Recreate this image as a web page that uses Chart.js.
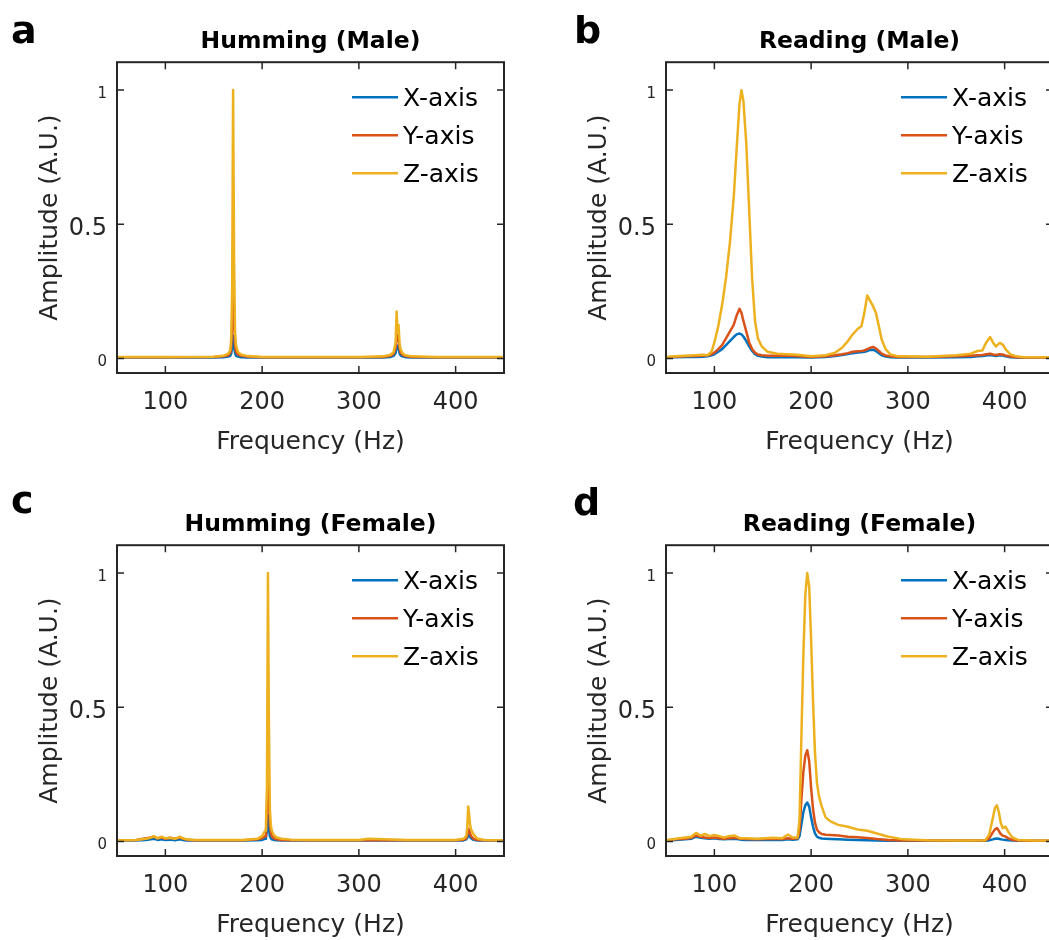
<!DOCTYPE html>
<html>
<head>
<meta charset="utf-8">
<title>Vibration spectra</title>
<script src="https://cdn.jsdelivr.net/npm/chart.js@4.4.1/dist/chart.umd.min.js"></script>
<style>
  body { margin: 0; background: #fff; }
  #page { position: relative; width: 1049px; height: 940px; overflow: hidden; background: #fff; }
  #page canvas { position: absolute; }
</style>
</head>
<body>
<div id="page">
  <canvas id="chartA" width="520" height="470" style="left:0px;top:0px"></canvas>
  <canvas id="chartB" width="520" height="470" style="left:549px;top:0px"></canvas>
  <canvas id="chartC" width="520" height="470" style="left:0px;top:483px"></canvas>
  <canvas id="chartD" width="520" height="470" style="left:549px;top:483px"></canvas>
</div>
<script>
const xTicks = [100, 200, 300, 400];
const yTicks = [0, 0.5, 1];
const seriesNames = ['X-axis', 'Y-axis', 'Z-axis'];
const seriesColors = ['#0072BD', '#D95319', '#EDB120'];

// a - Humming (Male)
const freqA = [50, 100, 150, 160, 165, 167, 168, 169, 170, 171, 172, 173, 175, 178, 185, 200, 250, 300, 325, 333, 336, 338, 339, 340, 341, 342, 343, 345, 348, 355, 380, 450];
const xA = [0.004, 0.004, 0.004, 0.005, 0.007, 0.01, 0.018, 0.04, 0.085, 0.045, 0.02, 0.01, 0.007, 0.005, 0.004, 0.004, 0.004, 0.004, 0.004, 0.006, 0.01, 0.02, 0.05, 0.035, 0.04, 0.02, 0.012, 0.008, 0.005, 0.004, 0.004, 0.004];
const yA = [0.005, 0.005, 0.006, 0.008, 0.012, 0.02, 0.04, 0.12, 0.33, 0.16, 0.05, 0.025, 0.015, 0.01, 0.007, 0.005, 0.005, 0.005, 0.006, 0.01, 0.018, 0.04, 0.09, 0.065, 0.075, 0.04, 0.022, 0.014, 0.009, 0.006, 0.005, 0.005];
const zA = [0.006, 0.006, 0.007, 0.01, 0.018, 0.03, 0.07, 0.25, 1.0, 0.38, 0.1, 0.05, 0.025, 0.015, 0.009, 0.006, 0.006, 0.006, 0.008, 0.014, 0.025, 0.06, 0.175, 0.1, 0.125, 0.06, 0.035, 0.02, 0.012, 0.008, 0.006, 0.006];

// b - Reading (Male)
const freqB = [50, 60, 70, 80, 88, 93, 97, 100, 104, 108, 112, 116, 120, 123, 126, 128, 130, 133, 136, 139, 142, 145, 149, 155, 165, 175, 185, 200, 215, 225, 232, 238, 243, 248, 252, 255, 258, 261, 264, 267, 270, 273, 277, 282, 290, 320, 350, 365, 372, 377, 381, 385, 388, 391, 395, 398, 402, 406, 412, 420, 450];
const xB = [0.004, 0.005, 0.006, 0.006, 0.007, 0.008, 0.012, 0.016, 0.025, 0.035, 0.05, 0.065, 0.08, 0.09, 0.093, 0.09, 0.082, 0.065, 0.045, 0.028, 0.016, 0.01, 0.007, 0.005, 0.005, 0.005, 0.005, 0.004, 0.006, 0.009, 0.013, 0.017, 0.02, 0.022, 0.023, 0.025, 0.028, 0.032, 0.033, 0.028, 0.02, 0.012, 0.007, 0.005, 0.004, 0.004, 0.005, 0.006, 0.008, 0.009, 0.011, 0.013, 0.011, 0.009, 0.012, 0.011, 0.007, 0.005, 0.004, 0.003, 0.003];
const yB = [0.005, 0.007, 0.008, 0.009, 0.01, 0.012, 0.016, 0.022, 0.035, 0.05, 0.075, 0.1, 0.125, 0.16, 0.185, 0.17, 0.14, 0.1, 0.06, 0.035, 0.022, 0.015, 0.012, 0.01, 0.01, 0.01, 0.009, 0.006, 0.008, 0.012, 0.016, 0.02, 0.025, 0.027, 0.028, 0.03, 0.035, 0.04, 0.043, 0.038, 0.028, 0.018, 0.011, 0.008, 0.006, 0.006, 0.008, 0.01, 0.012, 0.013, 0.016, 0.018, 0.015, 0.013, 0.016, 0.015, 0.01, 0.007, 0.005, 0.004, 0.004];
const zB = [0.005, 0.008, 0.01, 0.012, 0.014, 0.012, 0.025, 0.06, 0.12, 0.2, 0.3, 0.43, 0.6, 0.78, 0.95, 1.0, 0.96, 0.8, 0.55, 0.3, 0.14, 0.075, 0.045, 0.025, 0.018, 0.016, 0.014, 0.008, 0.012, 0.022, 0.04, 0.065, 0.09, 0.11, 0.12, 0.17, 0.235, 0.215, 0.195, 0.17, 0.12, 0.07, 0.035, 0.015, 0.008, 0.007, 0.012, 0.018, 0.028, 0.03, 0.06, 0.08, 0.06, 0.045, 0.058, 0.052, 0.03, 0.015, 0.008, 0.005, 0.005];

// c - Humming (Female)
const freqC = [50, 70, 80, 85, 88, 92, 96, 100, 105, 110, 115, 118, 122, 130, 150, 180, 195, 200, 203, 204, 205, 206, 207, 208, 209, 210, 212, 215, 220, 230, 260, 300, 310, 350, 400, 408, 411, 412, 413, 414, 415, 416, 418, 420, 423, 430, 450];
const xC = [0.004, 0.004, 0.006, 0.008, 0.01, 0.006, 0.008, 0.006, 0.007, 0.005, 0.008, 0.006, 0.004, 0.004, 0.004, 0.004, 0.005, 0.006, 0.01, 0.018, 0.04, 0.1, 0.05, 0.02, 0.012, 0.008, 0.006, 0.005, 0.004, 0.004, 0.004, 0.004, 0.004, 0.004, 0.004, 0.004, 0.008, 0.014, 0.025, 0.022, 0.016, 0.012, 0.007, 0.005, 0.004, 0.004, 0.004];
const yC = [0.005, 0.006, 0.012, 0.015, 0.018, 0.012, 0.015, 0.01, 0.014, 0.01, 0.015, 0.01, 0.007, 0.005, 0.005, 0.005, 0.008, 0.012, 0.02, 0.04, 0.12, 0.36, 0.18, 0.06, 0.035, 0.02, 0.012, 0.008, 0.006, 0.005, 0.005, 0.005, 0.006, 0.005, 0.005, 0.007, 0.012, 0.025, 0.048, 0.042, 0.03, 0.02, 0.012, 0.008, 0.006, 0.005, 0.005];
const zC = [0.005, 0.006, 0.01, 0.015, 0.02, 0.012, 0.018, 0.012, 0.014, 0.01, 0.018, 0.012, 0.008, 0.006, 0.006, 0.006, 0.01, 0.02, 0.04, 0.07, 0.2, 1.0, 0.45, 0.12, 0.06, 0.04, 0.025, 0.015, 0.01, 0.007, 0.006, 0.006, 0.01, 0.006, 0.006, 0.01, 0.02, 0.05, 0.13, 0.1, 0.06, 0.045, 0.03, 0.02, 0.01, 0.006, 0.005];

// d - Reading (Female)
const freqD = [50, 60, 70, 76, 81, 86, 90, 95, 100, 105, 110, 115, 121, 127, 133, 145, 160, 170, 176, 181, 186, 188, 190, 192, 194, 196, 198, 200, 202, 204, 206, 208, 211, 215, 220, 228, 238, 248, 258, 268, 280, 295, 320, 360, 380, 384, 388, 390, 392, 394, 396, 398, 401, 404, 408, 414, 430, 450];
const xD = [0.003, 0.006, 0.008, 0.01, 0.018, 0.014, 0.012, 0.01, 0.012, 0.009, 0.008, 0.009, 0.01, 0.007, 0.006, 0.006, 0.007, 0.006, 0.008, 0.007, 0.008, 0.02, 0.065, 0.11, 0.135, 0.145, 0.13, 0.09, 0.055, 0.03, 0.018, 0.014, 0.011, 0.01, 0.009, 0.008, 0.007, 0.006, 0.005, 0.004, 0.003, 0.003, 0.003, 0.003, 0.003, 0.005, 0.008, 0.01, 0.011, 0.01, 0.008, 0.007, 0.006, 0.005, 0.004, 0.003, 0.003, 0.003];
const yD = [0.004, 0.008, 0.01, 0.014, 0.022, 0.018, 0.015, 0.013, 0.015, 0.012, 0.01, 0.012, 0.014, 0.01, 0.009, 0.008, 0.01, 0.009, 0.012, 0.01, 0.012, 0.04, 0.16, 0.26, 0.32, 0.34, 0.3, 0.2, 0.12, 0.07, 0.045, 0.035, 0.028, 0.025, 0.024, 0.022, 0.018, 0.016, 0.013, 0.009, 0.006, 0.004, 0.004, 0.004, 0.004, 0.012, 0.035, 0.045, 0.05, 0.04, 0.028, 0.022, 0.018, 0.012, 0.006, 0.004, 0.003, 0.003];
const zD = [0.005, 0.01, 0.015, 0.018, 0.032, 0.022, 0.028, 0.02, 0.024, 0.02, 0.015, 0.02, 0.022, 0.012, 0.012, 0.01, 0.014, 0.012, 0.026, 0.015, 0.015, 0.08, 0.4, 0.7, 0.92, 1.0, 0.95, 0.75, 0.52, 0.33, 0.22, 0.17, 0.13, 0.09, 0.075, 0.062, 0.055, 0.045, 0.04, 0.03, 0.018, 0.008, 0.005, 0.004, 0.005, 0.025, 0.09, 0.125, 0.135, 0.11, 0.07, 0.05, 0.055, 0.035, 0.015, 0.006, 0.004, 0.004];

const FONT = '"DejaVu Sans", sans-serif';
Chart.defaults.font.family = FONT;

// matlab style box: frame on all four sides, inward ticks, legend inside, panel letter
const boxPlugin = {
    id: 'matlabBox',
    afterDatasetsDraw(chart, args, opts) {
        const { ctx, chartArea: a, scales } = chart;
        ctx.save();
        ctx.strokeStyle = '#262626';
        ctx.lineWidth = 1.5;
        ctx.beginPath();
        xTicks.forEach(v => {
            const px = scales.x.getPixelForValue(v);
            ctx.moveTo(px, a.bottom); ctx.lineTo(px, a.bottom - 7);
            ctx.moveTo(px, a.top); ctx.lineTo(px, a.top + 7);
        });
        yTicks.forEach(v => {
            const py = scales.y.getPixelForValue(v);
            ctx.moveTo(a.left, py); ctx.lineTo(a.left + 7, py);
            ctx.moveTo(a.right, py); ctx.lineTo(a.right - 7, py);
        });
        ctx.stroke();
        ctx.lineWidth = 2;
        ctx.strokeRect(a.left, a.top, a.right - a.left, a.bottom - a.top);

        // legend
        ctx.font = '25px ' + FONT;
        ctx.textBaseline = 'middle';
        ctx.textAlign = 'left';
        chart.data.datasets.forEach((ds, i) => {
            const y = a.top + 35 + i * 38;
            ctx.strokeStyle = ds.borderColor;
            ctx.lineWidth = 2.5;
            ctx.beginPath();
            ctx.moveTo(a.left + 235, y);
            ctx.lineTo(a.left + 281, y);
            ctx.stroke();
            ctx.fillStyle = '#000';
            ctx.fillText(ds.label, a.left + 286, y + 2);
        });

        ctx.font = 'bold 38px ' + FONT;
        ctx.textBaseline = 'alphabetic';
        ctx.fillStyle = '#000';
        ctx.fillText(opts.letter, opts.lx, opts.ly);
        ctx.restore();
    }
};

function makePanel(canvasId, title, letter, lx, ly, freq, xs, ys, zs) {
    const datasets = [xs, ys, zs].map((vals, i) => ({
        label: seriesNames[i],
        data: freq.map((f, j) => ({ x: f, y: vals[j] })),
        borderColor: seriesColors[i],
        borderWidth: 2.5,
        borderJoinStyle: 'round',
        pointRadius: 0,
        fill: false,
        tension: 0,
        order: 2 - i
    }));
    const ctx = document.getElementById(canvasId).getContext('2d');
    return new Chart(ctx, {
        type: 'line',
        data: { datasets: datasets },
        options: {
            responsive: false,
            animation: false,
            layout: { padding: { left: 0, top: 0, right: 16, bottom: 0 } },
            plugins: {
                legend: { display: false },
                tooltip: { enabled: false },
                title: {
                    display: true,
                    text: title,
                    fullSize: false,
                    color: '#000',
                    font: { family: FONT, size: 23.5, weight: 'bold' },
                    padding: { top: 28, bottom: 6 }
                },
                matlabBox: { letter: letter, lx: lx, ly: ly }
            },
            scales: {
                x: {
                    type: 'linear',
                    min: 50,
                    max: 450,
                    afterBuildTicks: s => { s.ticks = xTicks.map(v => ({ value: v })); },
                    afterFit: s => { s.height = 97; },
                    grid: { display: false, drawTicks: false },
                    border: { display: false },
                    ticks: { color: '#262626', font: { family: FONT, size: 24 }, padding: 15, maxRotation: 0, autoSkip: false },
                    title: { display: true, text: 'Frequency (Hz)', color: '#262626', font: { family: FONT, size: 25 }, padding: { top: 0, bottom: 13 } }
                },
                y: {
                    type: 'linear',
                    min: -0.054,
                    max: 1.104,
                    afterBuildTicks: s => { s.ticks = yTicks.map(v => ({ value: v })); },
                    afterFit: s => { s.width = 117; },
                    grid: { display: false, drawTicks: false },
                    border: { display: false },
                    ticks: {
                        color: '#262626',
                        callback: v => String(v),
                        font: c => ({ family: FONT, size: (c.tick && c.tick.value === 0.5) ? 24 : 15 }),
                        labelOffset: 4,
                        padding: 10,
                        autoSkip: false
                    },
                    title: { display: true, text: 'Amplitude (A.U.)', color: '#262626', font: { family: FONT, size: 25 }, padding: { top: 35, bottom: 0 } }
                }
            }
        },
        plugins: [boxPlugin]
    });
}

makePanel('chartA', 'Humming (Male)', 'a', 11, 43, freqA, xA, yA, zA);
makePanel('chartB', 'Reading (Male)', 'b', 25, 43, freqB, xB, yB, zB);
makePanel('chartC', 'Humming (Female)', 'c', 11, 30, freqC, xC, yC, zC);
makePanel('chartD', 'Reading (Female)', 'd', 24, 32, freqD, xD, yD, zD);
</script>
</body>
</html>
